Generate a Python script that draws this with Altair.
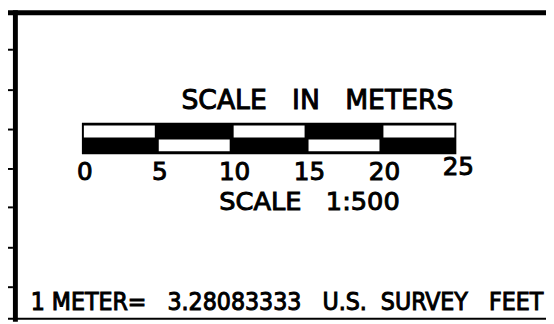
import altair as alt
import pandas as pd

# ---- data ----
tick_values = [0, 5, 10, 15, 20, 25]
tick_labels = ["0", "5", "10", "15", "20", "25"]
top_white_start = [0, 10, 20]
top_white_end = [5, 15, 25]
bottom_white_start = [5, 15]
bottom_white_end = [10, 20]
bar_start = [0]
bar_end = [25]
NB = "\u00a0"
title_text = ["SCALE" + NB * 3 + "IN" + NB * 3 + "METERS"]
scale_text = ["SCALE" + NB * 3 + "1:500"]
note_text = ["1" + NB + "METER=" + NB * 3 + "3.28083333" + NB * 3 + "U.S." + NB * 2 + "SURVEY" + NB * 3 + "FEET"]
left_rows = [1, 2, 3, 4, 5, 6, 7]

W, H = 546, 316
TXT = dict(font="DejaVu Sans", color="black", baseline="alphabetic", stroke="black", strokeWidth=1.0)
TXTC = dict(font="DejaVu Sans Condensed", color="black", baseline="alphabetic", stroke="black", strokeWidth=1.0)

xscale = alt.Scale(domain=[-4.934, 30.987], nice=False, zero=False)
X = lambda f: alt.X(f, type="quantitative", scale=xscale, axis=None)
X2 = lambda f: alt.X2(f)

bars = pd.DataFrame({"s": bar_start, "e": bar_end})
topw = pd.DataFrame({"s": top_white_start, "e": top_white_end})
botw = pd.DataFrame({"s": bottom_white_start, "e": bottom_white_end})
ticks = pd.DataFrame({"v": tick_values, "lab": tick_labels,
                      "raised": [v == 25 for v in tick_values]})

outer = alt.Chart(bars).mark_rect(color="black").encode(
    x=X("s"), x2=X2("e"), y=alt.value(114), y2=alt.value(146))
top_white = alt.Chart(topw).mark_rect(color="white", xOffset=2, x2Offset=-2).encode(
    x=X("s"), x2=X2("e"), y=alt.value(117), y2=alt.value(129))
bot_white = alt.Chart(botw).mark_rect(color="white", xOffset=2, x2Offset=-2).encode(
    x=X("s"), x2=X2("e"), y=alt.value(131), y2=alt.value(143))

labels_low = alt.Chart(ticks).transform_filter("!datum.raised").mark_text(
    fontSize=25, dx=3, **TXT).encode(
    x=X("v"), y=alt.value(172), text="lab:N")
labels_high = alt.Chart(ticks).transform_filter("datum.raised").mark_text(
    fontSize=25, dx=2, **TXT).encode(
    x=X("v"), y=alt.value(167), text="lab:N")

title = alt.Chart(pd.DataFrame({"t": title_text})).mark_text(
    fontSize=27, align="center", **TXT).encode(
    x=alt.value(314), y=alt.value(100), text="t:N")
scale = alt.Chart(pd.DataFrame({"t": scale_text})).mark_text(
    fontSize=26, align="center", **TXT).encode(
    x=alt.value(306), y=alt.value(203), text="t:N")
note = alt.Chart(pd.DataFrame({"t": note_text})).mark_text(
    fontSize=25, align="left", **TXTC).encode(
    x=alt.value(23), y=alt.value(304), text="t:N")

top_band = alt.Chart(pd.DataFrame({"k": [0]})).mark_rect(color="black").encode(
    x=alt.value(0), x2=alt.value(W), y=alt.value(0), y2=alt.value(5))
bottom_line = alt.Chart(pd.DataFrame({"k": [0]})).mark_rect(color="black").encode(
    x=alt.value(0), x2=alt.value(W), y=alt.value(312), y2=alt.value(314))
left_line = alt.Chart(pd.DataFrame({"k": [0]})).mark_rect(color="black").encode(
    x=alt.value(5), x2=alt.value(10), y=alt.value(0), y2=alt.value(H))
row_y = [39, 80, 120, 160, 199, 240, 280]
rows = alt.Chart(pd.DataFrame({"r": left_rows, "py": row_y})).mark_rect(color="black").encode(
    x=alt.value(0), x2=alt.value(5),
    y=alt.Y("py:Q", scale=alt.Scale(domain=[0, H], range=[0, H], nice=False, zero=False), axis=None),
    y2=alt.Y2("py2:Q")).transform_calculate(py2="datum.py + 2")

chart = alt.layer(
    top_band, bottom_line, left_line, rows,
    outer, top_white, bot_white,
    labels_low, labels_high, title, scale, note
).properties(
    width=W, height=H, padding=0, autosize=alt.AutoSizeParams(type="none"),
    background="white"
).configure_view(stroke=None)

chart.save("out.html", embed_options={"renderer": "svg", "actions": False})
